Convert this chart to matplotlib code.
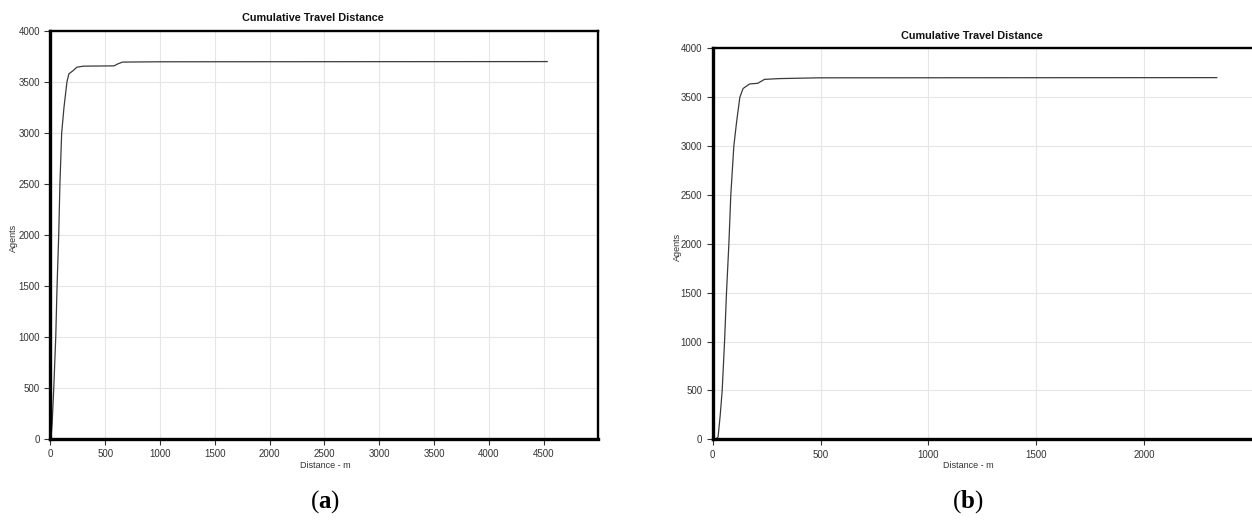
import matplotlib.pyplot as plt

# panel (a)
dist_a = [0, 5, 15, 30, 48, 60, 75, 86, 102, 123, 150, 168, 205, 241, 300, 580, 620, 658, 1000, 4533]
agents_a = [0, 20, 150, 500, 1000, 1500, 2000, 2500, 3000, 3250, 3500, 3580, 3610, 3645, 3655, 3658, 3680, 3695, 3698, 3700]
xticks_a = [0, 500, 1000, 1500, 2000, 2500, 3000, 3500, 4000, 4500]

# panel (b)
dist_b = [0, 15, 25, 35, 44, 55, 64, 75, 84, 98, 111, 126, 141, 171, 209, 240, 309, 492, 2338]
agents_b = [0, 3, 25, 250, 500, 1000, 1500, 2000, 2500, 3000, 3250, 3500, 3589, 3635, 3642, 3682, 3690, 3698, 3700]
xticks_b = [0, 500, 1000, 1500, 2000]

yticks = [0, 500, 1000, 1500, 2000, 2500, 3000, 3500, 4000]

plt.rcParams['font.family'] = ['Liberation Sans', 'DejaVu Sans']
plt.rcParams['mathtext.fontset'] = 'custom'
plt.rcParams['mathtext.rm'] = 'Liberation Serif'
plt.rcParams['mathtext.bf'] = 'Liberation Serif:bold'

W, H = 1252, 525
fig = plt.figure(figsize=(W / 100, H / 100), dpi=100)


def px(x, y):
    # pixel position (from top-left) -> figure fraction
    return x / W, 1 - y / H


def make_panel(rect, x, y, xticks, xlim):
    ax = fig.add_axes(rect)
    ax.plot(x, y, color="#3a3a3a", linewidth=0.9)
    ax.set_xlim(*xlim)
    ax.set_ylim(0, 4000)
    ax.set_xticks(xticks)
    ax.set_yticks(yticks)
    ax.grid(True, color="#e6e6e6", linewidth=0.8)
    ax.set_axisbelow(True)
    ax.tick_params(labelsize=7, colors="#333333", length=4, width=0.8)
    for side in ["left", "bottom"]:
        ax.spines[side].set_linewidth(2.4)
    for side in ["top", "right"]:
        ax.spines[side].set_linewidth(1.7)
    for s in ax.spines.values():
        s.set_color("black")
    return ax


l, t = px(50.5, 31)
_, b = px(0, 438.7)
make_panel([l, b, 547.8 / W, t - b], dist_a, agents_a, xticks_a, (0, 5000))

l, t = px(712.7, 48.3)
_, b = px(0, 439.3)
make_panel([l, b, 2550 / 500 * 107.8 / W, t - b], dist_b, agents_b, xticks_b, (0, 2550))

# titles
for (x, y) in [(313, 18), (972, 36)]:
    fig.text(*px(x, y), "Cumulative Travel Distance", ha="center", va="center",
             fontsize=7.8, fontweight="bold", color="#111111")

# axis labels
for (x, y) in [(325, 465), (968, 465)]:
    fig.text(*px(x, y), "Distance - m", ha="center", va="center", fontsize=6.5, color="#333333")
for (x, y) in [(13, 238), (677, 247)]:
    fig.text(*px(x, y), "Agents", ha="center", va="center", rotation=90, fontsize=6.5, color="#333333")

# panel captions
for (x, y, s) in [(325, 502, "a"), (968, 502, "b")]:
    fig.text(*px(x, y), "(" + r"$\mathbf{" + s + "}$" + ")", ha="center", va="center",
             fontsize=18, family="Liberation Serif")

fig.savefig("out.png", dpi=100)
